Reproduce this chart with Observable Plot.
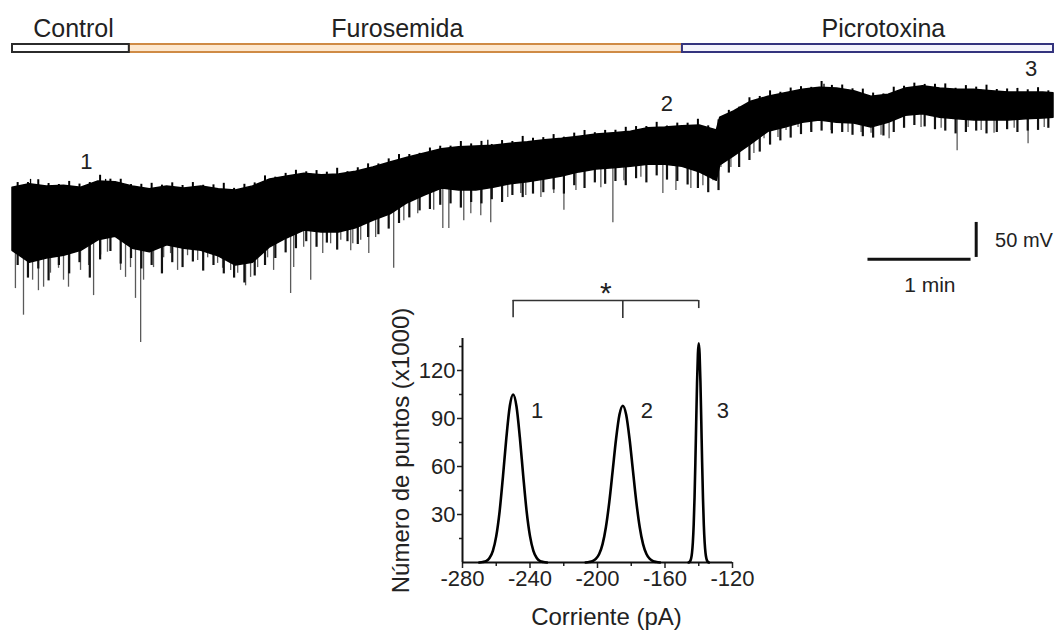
<!DOCTYPE html>
<html><head><meta charset="utf-8">
<script src="https://cdn.jsdelivr.net/npm/d3@7"></script>
<script src="https://cdn.jsdelivr.net/npm/@observablehq/plot@0.6"></script>
<style>
html,body{margin:0;padding:0;background:#fff;}
#fig{position:relative;width:1061px;height:631px;overflow:hidden;font-family:"Liberation Sans",Arial,sans-serif;}
#fig svg{position:absolute;left:0;top:0;overflow:visible;background:transparent;}
</style></head><body><div id="fig"></div>
<script>
// ---------------- DATA ----------------
// Experimental phases (time in s)
const phaseNames = ["Control", "Furosemida", "Picrotoxina"];
const phaseStart = [0, 68, 390];
const phaseEnd = [68, 390, 606];
const phaseLabelAt = [35.5, 224, 507];

// Recording envelope (time in s, potential in mV relative to an arbitrary reference)
const traceTime = [0,10,20,30,40,50,60,70,80,90,100,110,120,130,140,150,160,170,180,190,200,210,220,230,240,250,260,270,280,290,300,310,320,330,340,350,360,370,380,390,400,410,412,420,430,440,450,460,470,480,490,500,510,520,530,540,550,560,570,580,590,600,606];
const traceUpper = [-189,-184,-187,-186,-189,-180,-181,-187,-191,-187,-190,-187,-191,-193,-187,-177,-173,-169,-171,-170,-166,-160,-153,-146,-140,-134,-131,-130,-129,-126,-124,-121,-119,-116,-113,-111,-109,-104,-103,-101,-100,-107,-89,-80,-66,-59,-54,-49,-46,-47,-51,-59,-56,-47,-44,-47,-49,-49,-51,-53,-53,-53,-54];
const traceLower = [-279,-296,-290,-286,-279,-264,-259,-276,-281,-271,-276,-279,-287,-300,-296,-274,-261,-250,-253,-253,-247,-236,-227,-211,-200,-190,-193,-193,-189,-184,-181,-177,-173,-167,-163,-161,-159,-156,-156,-159,-167,-179,-157,-144,-127,-109,-103,-96,-93,-96,-97,-103,-96,-86,-84,-89,-91,-93,-93,-93,-91,-90,-89];

// Dense dark fringe under the band (time in s, tip in mV)
const fringeTime = [3,9,15,21,27,33,39,45,51,57,63,69,75,81,87,93,99,105,111,117,123,129,135,141,147,153,159,165,171,177,183,189,195,201,207,213,219,225,231,237,243,249,255,261,267,273,279,285,291,297,303,309,315,321,327,333,339,345,351,357,363,369,375,381,387,393,399,405,411,417,423,429,435,441,447,453,459,465,471,477,483,489,495,501,507,513,519,525,531,537,543,549,555,561,567,573,579,585,591,597,603];
const fringeTip = [-300,-318,-305,-322,-300,-312,-296,-318,-292,-280,-298,-290,-305,-300,-312,-296,-303,-295,-308,-300,-312,-318,-325,-315,-300,-290,-282,-276,-266,-274,-268,-278,-266,-270,-260,-256,-248,-240,-232,-222,-220,-214,-212,-218,-210,-212,-206,-210,-200,-203,-198,-196,-192,-198,-186,-190,-182,-184,-180,-186,-176,-182,-172,-178,-180,-185,-190,-196,-193,-168,-160,-150,-138,-128,-122,-118,-113,-110,-108,-112,-110,-114,-116,-118,-115,-110,-104,-100,-102,-106,-108,-112,-110,-108,-112,-110,-106,-110,-108,-107,-104];
// Noise rising above the band's upper envelope (mV above it, same times as the fringe)
const crestHeight = [6,3,8,4,2,7,5,3,9,4,6,2,5,8,3,6,4,7,2,5,9,3,6,4,8,2,5,7,3,6,4,9,2,5,7,3,6,8,4,2,6,5,3,8,4,7,2,6,3,9,5,4,7,2,6,8,3,5,4,7,6,3,8,2,5,4,9,3,6,5,2,7,4,8,3,6,5,2,9,4,6,3,7,5,2,8,4,6,3,5,7,2,6,4,8,3,5,6,4,7,3];

// Downward events (time in s, tip in mV)
const spikeTime = [1.7,6.4,11.7,15.1,18.1,22.1,26.8,29.7,32.6,39.6,44.3,47.2,51.3,55.3,62.9,65.8,68.7,71.6,74.6,76.3,82.1,88.0,92.0,96.1,101.9,107.8,113.6,119.4,122.3,127.0,131.1,135.7,138.6,142.7,148.5,152.0,161.9,163.7,169.5,173.6,180.6,185.2,191.1,196.9,198.1,202.7,207.4,211.4,221.9,227.8,235.9,245.2,250.5,254.0,262.7,266.8,272.6,278.4,288.3,295.9,298.8,307.6,315.1,321.0,328.0,342.5,349.5,355.9,365.8,378.6,386.2,394.9,401.9,407.8,412.4,418.2,431.6,437.5,445.6,450.3,457.3,464.8,476.5,486.4,494.0,499.8,505.6,510.3,519.0,528.9,540.6,549.9,556.3,563.9,571.4,583.1,591.2,600.6];
const spikeTip = [-333,-371,-321,-336,-331,-311,-304,-321,-331,-307,-300,-343,-285,-281,-307,-317,-303,-347,-410,-321,-303,-289,-283,-307,-286,-293,-289,-297,-304,-307,-311,-329,-317,-303,-289,-307,-340,-303,-274,-321,-283,-269,-264,-279,-269,-264,-283,-260,-304,-236,-226,-221,-247,-247,-236,-226,-229,-239,-203,-197,-200,-203,-197,-221,-193,-189,-239,-179,-174,-197,-193,-190,-186,-179,-160,-160,-140,-119,-117,-107,-103,-107,-107,-110,-110,-111,-114,-119,-103,-103,-104,-136,-103,-107,-111,-104,-126,-103];

// Small upward events (time in s, tip in mV)
const upTime = [10.5, 54.2, 276.7, 472.4];
const upTip = [-177, -177, -121, -41];

// Sampling points marked on the trace
const sampleLabels = ["1", "2", "3"];
const sampleTimes = [43, 381, 593];

// Scale bar values
const scaleMinutes = 1;      // 1 min
const scaleMillivolts = 50;  // 50 mV

// Amplitude histograms (Corriente, pA ; Número de puntos x1000)
const peak1X = [-270,-268,-266,-264,-262,-260,-258,-256,-254,-252,-250,-248,-246,-244,-242,-240,-238,-236,-234,-232,-230];
const peak1Y = [0,0.3,0.9,2.8,7.3,16.5,32,54,78,97.5,105,97.5,78,54,32,16.5,7.3,2.8,0.9,0.3,0];
const peak2X = [-207,-205,-203,-201,-199,-197,-195,-193,-191,-189,-187,-185,-183,-181,-179,-177,-175,-173,-171,-169,-167,-165,-163];
const peak2Y = [0,0.3,0.8,2.2,5.3,11.5,22.2,37.9,57.4,77.2,92.3,98,92.3,77.2,57.4,37.9,22.2,11.5,5.3,2.2,0.8,0.3,0];
const peak3X = [-146,-145.5,-145,-144.5,-144,-143.5,-143,-142.5,-142,-141.5,-141,-140.5,-140,-139.5,-139,-138.5,-138,-137.5,-137,-136.5,-136,-135.5,-135,-134.5,-134];
const peak3Y = [0,0.3,1,2.6,6,12.5,23.6,40.4,62.7,88.3,112.7,130.5,137,130.5,112.7,88.3,62.7,40.4,23.6,12.5,6,2.6,1,0.3,0];
const peakCenters = [-250, -185, -140];

const xTicks = [-280, -240, -200, -160, -120];
const xMinorTicks = [-260, -220, -180, -140];
const yTicks = [30, 60, 90, 120];
const yMinorTicks = [15, 45, 75, 105, 135];

// ---------------- STYLES ----------------
const FONT = '"Liberation Sans", Arial, sans-serif';
const INK = "#222";
const phaseStyle = {
  "Control": {stroke: "#2b2b2b", fill: "#ffffff"},
  "Furosemida": {stroke: "#cf8b45", fill: "#fde8cf"},
  "Picrotoxina": {stroke: "#34347e", fill: "#f4f4fc"}
};

const fig = document.getElementById("fig");
function place(svg, left, top) {
  svg.style.left = left + "px";
  svg.style.top = top + "px";
  fig.appendChild(svg);
}

// ---------------- PHASE BARS ----------------
const phases = phaseNames.map((name, i) => ({name, start: phaseStart[i], end: phaseEnd[i], labelAt: phaseLabelAt[i]}));
const drawOrder = ["Furosemida", "Control", "Picrotoxina"];
const phasePlot = Plot.plot({
  width: 1061, height: 60,
  marginLeft: 12, marginRight: 8, marginTop: 44, marginBottom: 8,
  x: {domain: [0, 606], axis: null},
  style: {fontFamily: FONT, background: "transparent"},
  marks: [
    ...drawOrder.map(n => Plot.rect(phases.filter(d => d.name === n), {
      x1: "start", x2: "end",
      fill: phaseStyle[n].fill, stroke: phaseStyle[n].stroke, strokeWidth: 2
    })),
    Plot.text(phases, {x: "labelAt", text: "name", frameAnchor: "top", lineAnchor: "bottom", dy: -7.5, fontSize: 25, fill: INK})
  ]
});
place(phasePlot, 0, 0);

// ---------------- TRACE ----------------
const trace = traceTime.map((t, i) => ({t, hi: traceUpper[i], lo: traceLower[i]}));
// position on the drawn upper edge (for anchoring the event lines)
const edgeAt = d3.scaleLinear(traceTime, traceUpper);
const spikes = spikeTime.map((t, i) => ({t, tip: spikeTip[i], base: edgeAt(t)}));
const fringe = fringeTime.map((t, i) => ({t, tip: fringeTip[i], base: edgeAt(t)}));
const crest = fringeTime.map((t, i) => ({t, base: edgeAt(t) - 6, tip: edgeAt(t) + crestHeight[i]}));
const ups = upTime.map((t, i) => ({t, tip: upTip[i], base: edgeAt(t) - 6}));
const samples = sampleLabels.map((label, i) => ({label, t: sampleTimes[i], v: edgeAt(sampleTimes[i])}));

const sbT0 = 498, sbV0 = -291;
const tracePlot = Plot.plot({
  width: 1061, height: 345,
  marginLeft: 12, marginRight: 8, marginTop: 55, marginBottom: 0,
  x: {domain: [0, 606], axis: null},
  y: {domain: [-414.3, 0], axis: null},
  style: {fontFamily: FONT, background: "transparent"},
  marks: [
    Plot.ruleX(spikes, {x: "t", y1: "base", y2: "tip", stroke: "#5a5a5a", strokeWidth: 1.3}),
    Plot.ruleX(fringe, {x: "t", y1: "base", y2: "tip", stroke: "#111", strokeWidth: 2.2}),
    Plot.areaY(trace, {x: "t", y1: "lo", y2: "hi", fill: "#000", stroke: "#000", strokeWidth: 1.5}),
    Plot.ruleX(crest, {x: "t", y1: "base", y2: "tip", stroke: "#000", strokeWidth: 2}),
    Plot.ruleX(ups, {x: "t", y1: "base", y2: "tip", stroke: "#000", strokeWidth: 1.3}),
    Plot.text(samples, {x: "t", y: "v", text: "label", dy: -24, fontSize: 22, fill: INK}),
    // scale bar
    Plot.ruleY([sbV0], {x1: sbT0, x2: sbT0 + scaleMinutes * 60, stroke: "#111", strokeWidth: 3}),
    Plot.ruleX([sbT0 + scaleMinutes * 60 + 3], {y1: sbV0 + 2.5, y2: sbV0 + 2.5 + scaleMillivolts, stroke: "#111", strokeWidth: 3}),
    Plot.text([`${scaleMillivolts} mV`], {x: sbT0 + scaleMinutes * 60 + 14, y: sbV0 + 27, textAnchor: "start", fontSize: 20, fill: INK}),
    Plot.text([`${scaleMinutes} min`], {x: sbT0 + scaleMinutes * 30 + 6, y: sbV0 - 37, fontSize: 21, fill: INK})
  ]
});
place(tracePlot, 0, 0);

// ---------------- HISTOGRAM ----------------
const hist = [
  ...peak1X.map((x, i) => ({peak: "1", x, y: peak1Y[i]})),
  ...peak2X.map((x, i) => ({peak: "2", x, y: peak2Y[i]})),
  ...peak3X.map((x, i) => ({peak: "3", x, y: peak3Y[i]}))
];
const peaks = peakCenters.map((c, i) => ({label: String(i + 1), c}));
const bracketTop = 163.75;
const legEnd = [153, 152.5, 158.7];

const histPlot = Plot.plot({
  width: 400, height: 351,
  marginLeft: 82, marginRight: 48, marginTop: 58, marginBottom: 69,
  x: {domain: [-280, -120]},
  y: {domain: [0, 140]},
  style: {fontFamily: FONT, fontSize: "22px", color: INK, background: "transparent"},
  marks: [
    Plot.axisX({ticks: xTicks, tickSize: 6, tickPadding: 2, tickFormat: d => String(d), label: null, fontSize: 22, strokeWidth: 1.5}),
    Plot.axisX({ticks: xMinorTicks, tickSize: 4, tickFormat: () => "", label: null, strokeWidth: 1.5}),
    Plot.axisY({ticks: yTicks, tickSize: 5, tickPadding: 2, label: null, fontSize: 22, strokeWidth: 1.5}),
    Plot.axisY({ticks: yMinorTicks, tickSize: 3, tickFormat: () => "", label: null, strokeWidth: 1.5}),
    Plot.ruleY([0], {x1: -280, x2: -120, stroke: "#111", strokeWidth: 2}),
    Plot.ruleX([-280], {y1: 0, y2: 140, stroke: "#111", strokeWidth: 2}),
    Plot.line(hist, {x: "x", y: "y", z: "peak", curve: "monotone-x", stroke: "#000", strokeWidth: 2.6}),
    Plot.text(peaks, {x: "c", y: () => 95, dx: 24, text: "label", fontSize: 22, fill: INK}),
    // significance bracket
    Plot.ruleY([bracketTop], {x1: peakCenters[0], x2: peakCenters[2], stroke: "#333", strokeWidth: 1.6}),
    Plot.ruleX(peaks, {x: "c", y1: (d, i) => legEnd[i], y2: bracketTop, stroke: "#333", strokeWidth: 1.6}),
    Plot.text(["*"], {x: (peakCenters[0] + peakCenters[2]) / 2, y: bracketTop, dy: 2, lineAnchor: "bottom", fontSize: 30, fill: INK}),
    // axis titles
    Plot.text(["Número de puntos (x1000)"], {frameAnchor: "left", textAnchor: "middle", dx: -61, rotate: -90, fontSize: 24, fill: INK}),
    Plot.text(["Corriente (pA)"], {frameAnchor: "bottom", lineAnchor: "bottom", dx: 9, dy: 62, fontSize: 24, fill: INK})
  ]
});
place(histPlot, 380, 280);
</script></body></html>
